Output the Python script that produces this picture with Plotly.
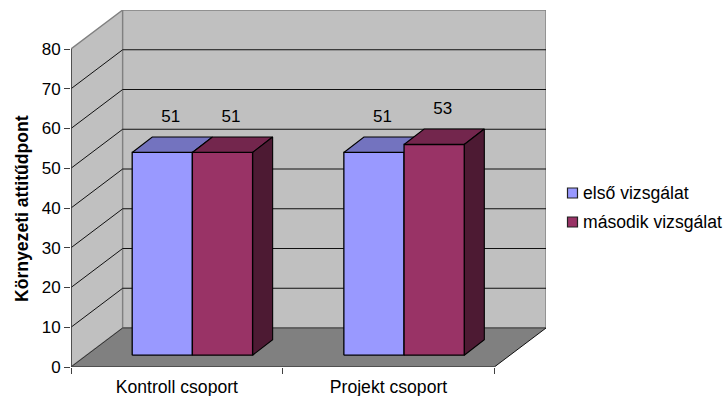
import plotly.graph_objects as go

# Chart data
categories = ["Kontroll csoport", "Projekt csoport"]
series_names = ["első vizsgálat", "második vizsgálat"]
elso_values = [51, 51]
masodik_values = [51, 53]
y_ticks = [0, 10, 20, 30, 40, 50, 60, 70, 80]
y_title = "Környezeti attitűdpont"

# Face colours per series: front, top, side
FACES = [("#9999FF", "#7373BF", "#4D4D80"), ("#993366", "#73264D", "#4D1A33")]
WALL, FLOOR, EDGE, AXIS = "#C0C0C0", "#808080", "#808080", "#404040"
FONT = "Liberation Sans, Arial, sans-serif"
NUM_SIZE, TEXT_SIZE = 17, 17.6

# Oblique projection, in axis units
PX_X, PX_Y = 211.0, 3.975          # pixels per category / per y unit
DEPTH_X, DEPTH_Y = 51.5 / PX_X, 39.0 / PX_Y   # full depth of the floor
GAP_X, GAP_Y = 15.5 / PX_X, 11.8 / PX_Y       # bars' front plane
BAR_DX, BAR_DY = 20.0 / PX_X, 15.5 / PX_Y     # depth of a bar
BAR_W = 60.0 / PX_X
LABEL_DX, LABEL_DY = 8.5 / PX_X, 35.0 / PX_Y
N = len(categories)
Y_MAX = y_ticks[-1]

fig = go.Figure()


def poly(xs, ys, fill=None, line="rgba(0,0,0,0)", width=1.0):
    """Add a closed or open polyline in axis units."""
    fig.add_trace(go.Scatter(
        x=xs, y=ys, mode="lines",
        fill="toself" if fill else "none", fillcolor=fill,
        line=dict(color=line, width=width),
        hoverinfo="skip", showlegend=False, cliponaxis=False,
    ))


# Side wall, back wall, floor
poly([0, DEPTH_X, DEPTH_X, 0, 0], [0, DEPTH_Y, Y_MAX + DEPTH_Y, Y_MAX, 0], WALL, EDGE, 1.4)
poly([DEPTH_X, N + DEPTH_X, N + DEPTH_X, DEPTH_X, DEPTH_X],
     [DEPTH_Y, DEPTH_Y, Y_MAX + DEPTH_Y, Y_MAX + DEPTH_Y, DEPTH_Y], WALL, EDGE, 1.4)
poly([0, N, N + DEPTH_X, DEPTH_X, 0], [0, 0, DEPTH_Y, DEPTH_Y, 0], FLOOR)

# Gridlines wrap from the side wall onto the back wall
for v in y_ticks[1:-1]:
    poly([0, DEPTH_X, N + DEPTH_X], [v, v + DEPTH_Y, v + DEPTH_Y], None, "#111111", 1.0)

# Floor edges
poly([DEPTH_X, N + DEPTH_X], [DEPTH_Y, DEPTH_Y], None, "#555555", 1.4)
poly([0, DEPTH_X], [0, DEPTH_Y], None, "#333333", 1.0)
poly([N, N + DEPTH_X], [0, DEPTH_Y], None, "#111111", 1.0)

# Bars, back to front within each group
label_x, label_y, label_text = [], [], []
for c in range(N):
    centre = c + 0.5 + GAP_X
    for s, values in enumerate([elso_values, masodik_values]):
        v = values[c]
        x0 = centre - BAR_W + s * BAR_W
        x1 = x0 + BAR_W
        y0 = GAP_Y
        y1 = GAP_Y + v
        front, top, side = FACES[s]
        poly([x0, x0 + BAR_DX, x1 + BAR_DX, x1, x0],
             [y1, y1 + BAR_DY, y1 + BAR_DY, y1, y1], top, "#000000", 1.1)
        if s == 1:
            poly([x1, x1 + BAR_DX, x1 + BAR_DX, x1, x1],
                 [y0, y0 + BAR_DY, y1 + BAR_DY, y1, y0], side, "#000000", 1.1)
        poly([x0, x1, x1, x0, x0], [y0, y0, y1, y1, y0], front, "#000000", 1.3)
        label_x.append((x0 + x1) / 2 + LABEL_DX)
        label_y.append(y1 + LABEL_DY)
        label_text.append(str(v))

fig.add_trace(go.Scatter(
    x=label_x, y=label_y, text=label_text, mode="text",
    textposition="middle center", textfont=dict(family=FONT, size=NUM_SIZE, color="#000000"),
    hoverinfo="skip", showlegend=False, cliponaxis=False,
))

# Axis lines, limited to the front plane
poly([0, 0], [0, Y_MAX], None, AXIS, 1.6)
poly([0, N], [0, 0], None, AXIS, 1.6)

# Legend keys and texts, plus the y axis title
PLOT_L, PLOT_W, PLOT_B, PLOT_H = 71, 475, 367, 357
shapes, annotations = [], []
for s, name in enumerate(series_names):
    top_px = 188 + s * 29
    shapes.append(dict(
        type="rect", xref="paper", yref="paper",
        x0=(567.5 - PLOT_L) / PLOT_W, x1=(577.5 - PLOT_L) / PLOT_W,
        y0=(PLOT_B - top_px - 10) / PLOT_H, y1=(PLOT_B - top_px) / PLOT_H,
        fillcolor=FACES[s][0], line=dict(color="#222222", width=1.2),
    ))
    annotations.append(dict(
        text=name, xref="paper", yref="paper", showarrow=False,
        x=(581 - PLOT_L) / PLOT_W, y=(PLOT_B - top_px - 5) / PLOT_H,
        xanchor="left", yanchor="middle",
        font=dict(family=FONT, size=TEXT_SIZE, color="#000000"),
    ))
annotations.append(dict(
    text="<b>" + y_title + "</b>", xref="paper", yref="paper", showarrow=False,
    x=(22 - PLOT_L) / PLOT_W, y=(PLOT_B - 209) / PLOT_H, textangle=-90,
    xanchor="center", yanchor="middle",
    font=dict(family=FONT, size=TEXT_SIZE, color="#000000"),
))

fig.update_layout(
    width=725, height=396, autosize=False,
    margin=dict(l=PLOT_L, r=725 - PLOT_L - PLOT_W, t=10, b=396 - PLOT_B, pad=0, autoexpand=False),
    paper_bgcolor="#FFFFFF", plot_bgcolor="#FFFFFF",
    showlegend=False, shapes=shapes, annotations=annotations,
    font=dict(family=FONT, size=TEXT_SIZE, color="#000000"),
    xaxis=dict(
        automargin=False,
        range=[0, N + DEPTH_X], showgrid=False, zeroline=False, showline=False,
        tickmode="array", tickvals=[i + 0.5 for i in range(N)], ticktext=categories,
        ticks="", tickfont=dict(family=FONT, size=TEXT_SIZE), ticklabelstandoff=7,
        minor=dict(tickmode="array", tickvals=list(range(N + 1)), ticks="outside",
                   ticklen=6, tickcolor=AXIS, tickwidth=1.2, showgrid=False),
    ),
    yaxis=dict(
        automargin=False,
        range=[0, Y_MAX + DEPTH_Y], showgrid=False, zeroline=False, showline=False,
        tickmode="array", tickvals=y_ticks, ticks="outside", ticklen=6,
        tickcolor=AXIS, tickwidth=1.2, tickfont=dict(family=FONT, size=NUM_SIZE),
    ),
)

fig.write_html("out.html", config=dict(displayModeBar=False))
